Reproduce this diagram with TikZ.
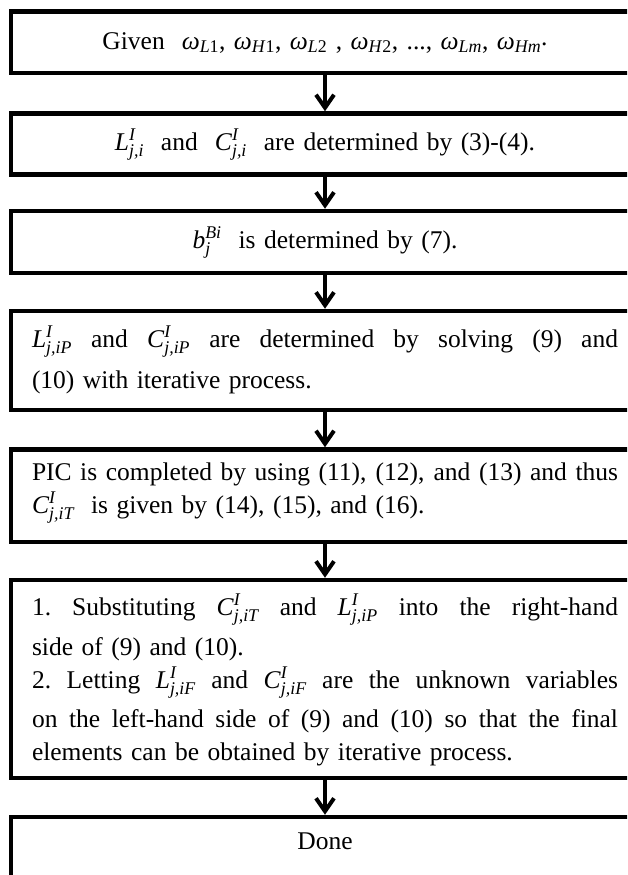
\documentclass[tikz,border=0pt]{standalone}
\usepackage{amsmath}
\usepackage{fontspec}
\setmainfont{Liberation Serif}
\usetikzlibrary{arrows.meta}
\newcommand\Sy[3]{\textit{#1}$^{\textit{#2}}_{\textit{#3}}$}
\newcommand\Om[1]{\textit{ω}$_{\text{#1}}$}
\newcommand\jl[1]{\noindent\hbox to\linewidth{\spaceskip=.25em plus 1fil\xspaceskip=.25em plus 1fil #1}\par}
\newcommand\rl[1]{\noindent\hbox to\linewidth{#1\hfil}\par}
\begin{document}
\begin{tikzpicture}[x=1pt,y=1pt,
  flowbox/.style={draw, line width=4.5pt, anchor=north, outer sep=0pt,
    inner xsep=21pt, inner ysep=0pt, text width=586pt,
    font=\fontsize{25.5}{33}\selectfont},
  flowarrow/.style={line width=4pt, shorten >=2.25pt, shorten <=2.25pt,
    -{Straight Barb[length=13pt,width=18pt]}}]
\clip (0,0) rectangle (627,-875);
\node[flowbox, align=center, text height=37.5pt, text depth=24pt] (b1) at (325,-11.5)
  {Given\ \ \Om{\textit{L}1}, \Om{\textit{H}1}, \Om{\textit{L}2} , \Om{\textit{H}2}, ..., \Om{\textit{Lm}}, \Om{\textit{Hm}}\raisebox{.3ex}{.}};
\node[flowbox, align=center, text height=36.5pt, text depth=24.5pt] (b2) at (325,-113.5)
  {\Sy{L}{I}{j,i}\ \ and\ \ \Sy{C}{I}{j,i}\ \ are determined by (3)-(4).};
\node[flowbox, align=center, text height=37pt, text depth=25pt] (b3) at (325,-211)
  {\textit{b}$^{\textit{Bi}}_{\textit{j}}$\ \ is determined by (7).};
\node[flowbox, text height=36pt, text depth=63pt] (b4) at (325,-311)
  {\jl{\Sy{L}{I}{j,iP} and \Sy{C}{I}{j,iP} are determined by solving (9) and}\vspace{8pt}%
   \rl{(10) with iterative process.}};
\node[flowbox, text height=30.5pt, text depth=62pt] (b5) at (325,-449.5)
  {\jl{PIC is completed by using (11), (12), and (13) and thus}%
   \rl{\Sy{C}{I}{j,iT}\ \ is given by (14), (15), and (16).}};
\node[flowbox, text height=35pt, text depth=163pt] (b6) at (325,-580)
  {\jl{1. Substituting \Sy{C}{I}{j,iT} and \Sy{L}{I}{j,iP} into the right-hand}\vspace{7pt}%
   \rl{side of (9) and (10).}%
   \jl{2. Letting \Sy{L}{I}{j,iF} and \Sy{C}{I}{j,iF} are the unknown variables}\vspace{6pt}%
   \jl{on the left-hand side of (9) and (10) so that the final}%
   \rl{elements can be obtained by iterative process.}};
\node[flowbox, align=center, text height=32pt, text depth=100pt] (b7) at (325,-817)
  {Done};
\draw[flowarrow] (b1.south) -- (b2.north);
\draw[flowarrow] (b2.south) -- (b3.north);
\draw[flowarrow] (b3.south) -- (b4.north);
\draw[flowarrow] (b4.south) -- (b5.north);
\draw[flowarrow] (b5.south) -- (b6.north);
\draw[flowarrow] (b6.south) -- (b7.north);
\end{tikzpicture}
\end{document}
